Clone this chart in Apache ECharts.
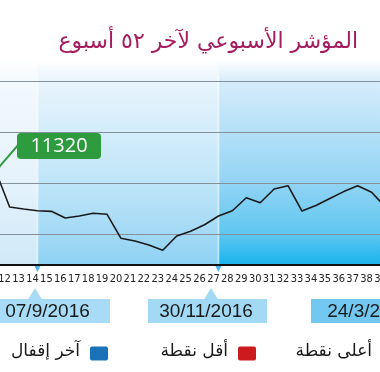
<!DOCTYPE html>
<html><head><meta charset="utf-8">
<script src="https://cdn.jsdelivr.net/npm/echarts@6/dist/echarts.min.js"></script>
<style>html,body{margin:0;padding:0;background:#fff}#c{width:380px;height:372px}</style>
</head><body><div id="c"></div>
<script>
const weeks = ['11','12','13','14','15','16','17','18','19','20','21','22','23','24','25','26','27','28','29','30','31','32','33','34','35','36','37','38','39'];
const closeValues = [11320,10967,10948,10930,10925,10860,10879,10906,10896,10661,10635,10596,10544,10684,10730,10794,10879,10931,11058,11009,11144,11176,10928,10982,11050,11118,11176,11111,10967];
const gridValues = [10700, 11200, 11700, 12200];
const highValue = 11320;
const highWeek = '11';
const markWeeks = ['14', '27'];
const dateLabels = ['07/9/2016', '30/11/2016', '24/3/2017'];
const legendNames = ['آخر إقفال', 'أقل نقطة', 'أعلى نقطة'];
const titleText = 'المؤشر الأسبوعي لآخر ٥٢ أسبوع';

const chart = echarts.init(document.getElementById('c'));
chart.setOption({
  animation: false,
  backgroundColor: '#ffffff',
  grid: {left: -4.3, right: -5.5, top: 81, bottom: 107, containLabel: false, outerBoundsMode: 'none'},
  xAxis: {
    type: 'category', data: weeks, boundaryGap: false,
    axisLine: {lineStyle: {color: '#111', width: 2}},
    axisTick: {show: false},
    axisLabel: {interval: 0, margin: 9, color: '#222', fontSize: 11,
      fontFamily: '"Liberation Sans Narrow", "DejaVu Sans Condensed", sans-serif', padding: [0, 10, 0, 0]},
    splitLine: {show: false}
  },
  yAxis: {type: 'value', min: 10400, max: 12200, show: false},
  series: [{
    type: 'line', data: closeValues, symbol: 'none', z: 5,
    lineStyle: {color: '#1a1a1a', width: 1.6},
    markLine: {silent: true, symbol: 'none', label: {show: false}, z: 3,
      lineStyle: {color: '#84909a', width: 1.2, type: 'solid'},
      data: gridValues.map(v => ({yAxis: v}))}
  }]
});

const P = (w, v) => chart.convertToPixel({gridIndex: 0}, [weeks.indexOf(w), v]);
const yBottom = P('11', 10400)[1];
const x1 = P(markWeeks[0], 11000)[0];
const x2 = P(markWeeks[1], 11000)[0];
const hp = P(highWeek, highValue);
const G = echarts.graphic;
const grad = stops => new G.LinearGradient(0, 0, 0, 1, stops);
const bandTop = 60;
const bandH = yBottom - bandTop;
const f = y => (y - bandTop) / bandH;

const g = [];
// bands
g.push({type: 'rect', z: -5, shape: {x: -10, y: bandTop, width: x1 + 10, height: bandH},
  style: {fill: grad([{offset: 0, color: '#ffffff'}, {offset: f(81), color: '#f3f9fd'}, {offset: f(183), color: '#e4f2fb'}, {offset: 1, color: '#d0e9f8'}])}});
g.push({type: 'rect', z: -5, shape: {x: x1, y: bandTop, width: x2 - x1, height: bandH},
  style: {fill: grad([{offset: 0, color: '#ffffff'}, {offset: f(81), color: '#e8f4fc'}, {offset: f(183), color: '#bfe5f8'}, {offset: f(235), color: '#a2d9f5'}, {offset: 1, color: '#8dd1f3'}])}});
g.push({type: 'rect', z: -5, shape: {x: x2, y: bandTop, width: 400 - x2, height: bandH},
  style: {fill: grad([{offset: 0, color: '#ffffff'}, {offset: f(81), color: '#d6ecfa'}, {offset: f(183), color: '#92d4f4'}, {offset: f(235), color: '#5ec7f0'}, {offset: 1, color: '#17b3ec'}])}});
[x1, x2].forEach(x => {
  g.push({type: 'line', z: -4, shape: {x1: x, y1: 75, x2: x, y2: yBottom}, style: {stroke: 'rgba(255,255,255,0.45)', lineWidth: 2}});
  g.push({type: 'polygon', z: 10, shape: {points: [[x - 3, yBottom + 1], [x + 3, yBottom + 1], [x, yBottom + 7]]}, style: {fill: '#4db6ea'}});
});
// title
g.push({type: 'text', z: 10, style: {text: titleText, x: 358, y: 42, align: 'right', verticalAlign: 'middle',
  fill: '#a51d5e', font: '22px "DejaVu Sans", sans-serif'}});
// callout
g.push({type: 'polyline', z: 10, shape: {points: [hp, [19, 144]]}, style: {stroke: '#2f9b3f', lineWidth: 2}});
g.push({type: 'rect', z: 10, shape: {x: 17, y: 133, width: 84, height: 26, r: 4}, style: {fill: '#2f9b3f'}});
g.push({type: 'text', z: 11, style: {text: String(highValue), x: 59, y: 146.5, align: 'center', verticalAlign: 'middle',
  fill: '#ffffff', font: '20px "Open Sans", sans-serif'}});
// date boxes
const boxes = [
  {x: -12, w: 122, color: '#a8dcf6', px: 35},
  {x: 148, w: 119, color: '#a2d9f5', px: 211},
  {x: 311, w: 120, color: '#72c8f0', px: null}
];
boxes.forEach((b, i) => {
  g.push({type: 'rect', z: 10, shape: {x: b.x, y: 299, width: b.w, height: 24}, style: {fill: b.color}});
  if (b.px !== null) g.push({type: 'polygon', z: 10, shape: {points: [[b.px - 7, 299.5], [b.px + 7, 299.5], [b.px, 288]]}, style: {fill: b.color}});
  g.push({type: 'text', z: 11, style: {text: dateLabels[i], x: b.x + b.w / 2 - 1.5, y: 312, align: 'center', verticalAlign: 'middle',
    fill: '#1a1a1a', font: '19px "Liberation Sans", Arial, sans-serif'}});
});
// legend
const legendColors = ['#1a73b9', '#cc1a1f', '#2f9b3f'];
const legendSq = [90, 238, 382];
legendNames.forEach((n, i) => {
  g.push({type: 'rect', z: 10, shape: {x: legendSq[i], y: 346.5, width: 18, height: 14, r: 2}, style: {fill: legendColors[i]}});
  g.push({type: 'text', z: 10, style: {text: n, x: legendSq[i] - 10, y: 352, align: 'right', verticalAlign: 'middle',
    fill: '#1a1a1a', font: '17px "DejaVu Sans", sans-serif'}});
});
chart.setOption({graphic: g});
</script></body></html>
